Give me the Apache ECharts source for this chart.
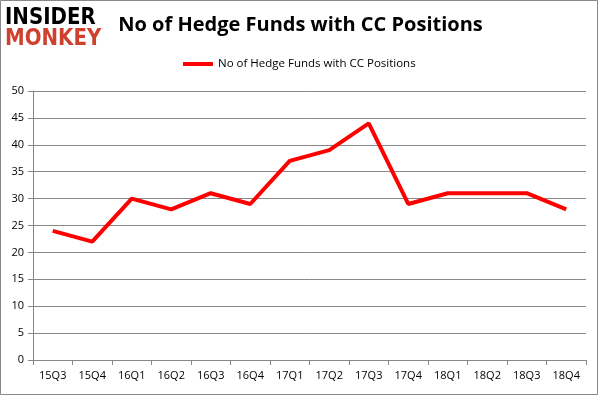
<!DOCTYPE html>
<html><head><meta charset="utf-8">
<script src="https://cdn.jsdelivr.net/npm/echarts@6/dist/echarts.min.js"></script>
<style>html,body{margin:0;padding:0;background:#fff}#c{width:601px;height:396px}</style>
</head><body><div id="c"></div>
<script>
const categories = ['15Q3','15Q4','16Q1','16Q2','16Q3','16Q4','17Q1','17Q2','17Q3','17Q4','18Q1','18Q2','18Q3','18Q4'];
const hedgeFunds = [24, 22, 30, 28, 31, 29, 37, 39, 44, 29, 31, 31, 31, 28];
const seriesName = 'No of Hedge Funds with CC Positions';
const titleText = 'No of Hedge Funds with CC Positions';

const chart = echarts.init(document.getElementById('c'), null, {renderer:'canvas'});
const font = 'Open Sans, DejaVu Sans, sans-serif';
chart.setOption({
  animation: false,
  title: { text: titleText, left: 'center', top: 10,
    textStyle: { fontFamily: font, fontWeight: 'bold', fontSize: 20, color: '#000' } },
  legend: { top: 53, left: 178, itemWidth: 30, itemHeight: 4, itemGap: 5,
    icon: 'rect',
    textStyle: { fontFamily: font, fontSize: 11.5, color: '#000' },
    data: [seriesName] },
  grid: { left: 33, right: 15, top: 91, bottom: 36 },
  xAxis: { type: 'category', data: categories, boundaryGap: true,
    axisLine: { lineStyle: { color: '#888' } },
    axisTick: { show: true, length: 5, lineStyle: { color: '#888' } },
    axisLabel: { fontFamily: font, fontSize: 11, color: '#000', margin: 10 } },
  yAxis: { type: 'value', min: 0, max: 50, interval: 5,
    axisLine: { show: true, lineStyle: { color: '#888' } },
    axisTick: { show: true, length: 5, lineStyle: { color: '#888' } },
    splitLine: { lineStyle: { color: '#888' } },
    axisLabel: { fontFamily: font, fontSize: 11, color: '#000', margin: 9 } },
  series: [{ name: seriesName, type: 'line', data: hedgeFunds, symbol: 'none',
    lineStyle: { color: '#ff0000', width: 4 }, itemStyle: { color: '#ff0000' } }],
  graphic: [
    { type: 'rect', shape: { x: 0.5, y: 0.5, width: 597, height: 394 },
      style: { fill: 'none', stroke: '#888', lineWidth: 1 }, silent: true },
    { type: 'text', x: 5, y: 7, scaleX: 0.86, style: { text: 'INSIDER', font: 'bold 23px "DejaVu Sans", sans-serif', fill: '#000' } },
    { type: 'text', x: 5, y: 28, scaleX: 0.86, style: { text: 'MONKEY', font: 'bold 23px "DejaVu Sans", sans-serif', fill: '#d0402e' } }
  ]
});
</script></body></html>
